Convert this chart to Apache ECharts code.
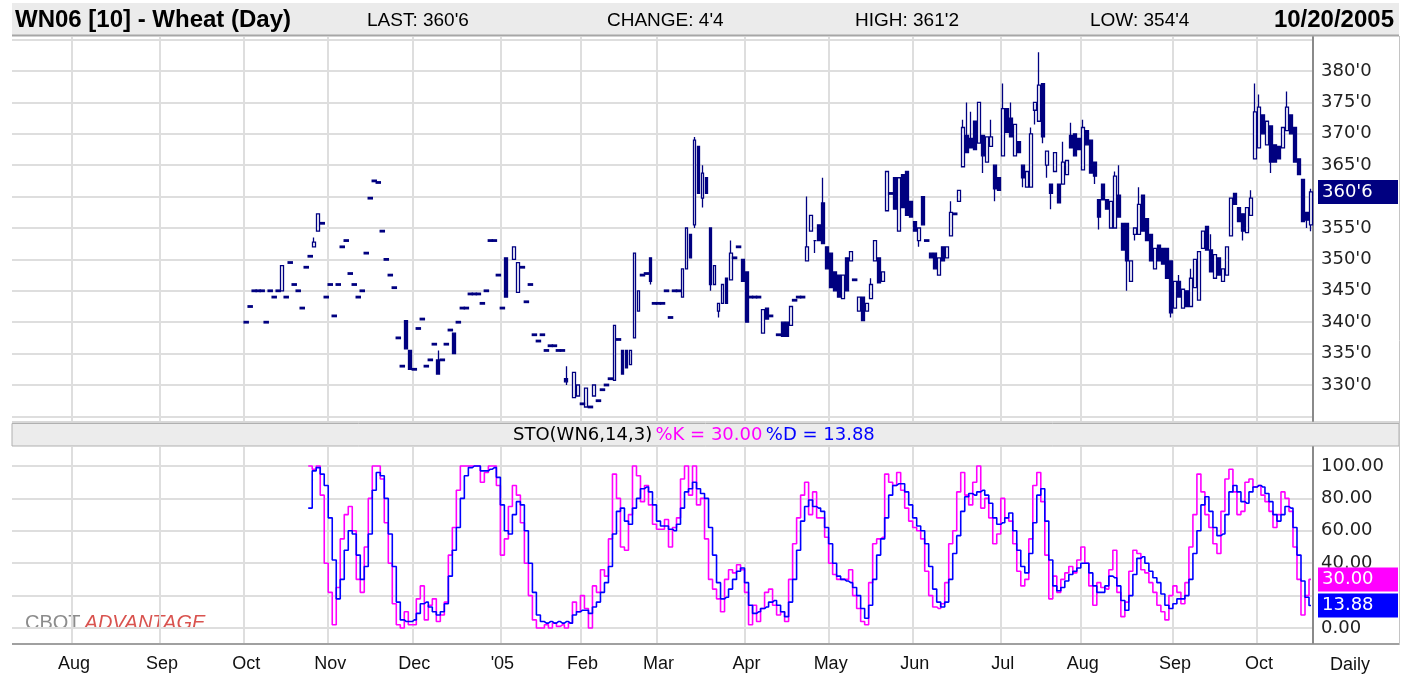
<!DOCTYPE html>
<html>
<head>
<meta charset="utf-8">
<script src="https://cdn.jsdelivr.net/npm/echarts@6/dist/echarts.min.js"></script>
<style>
html,body{margin:0;padding:0;background:#ffffff;}
#chart{width:1408px;height:676px;}
</style>
</head>
<body>
<div id="chart"></div>
<script>
// ---------------- data ----------------
const TITLE = "WN06 [10] - Wheat (Day)";
const REPORT_DATE = "10/20/2005";
const LAST = 360.75, CHANGE = 4.5, HIGH = 361.25, LOW = 354.5;
const K_LAST = 30.00, D_LAST = 13.88;
const STO_NAME = "STO(WN6,14,3)";
const AXIS_FIRST_DAY = "2004-07-12";
const AXIS_LAST_DAY = "2005-10-20";
const HOLIDAYS = ["2004-09-06","2004-11-25","2004-12-24","2005-01-17","2005-02-21","2005-03-25","2005-05-30","2005-07-04","2005-09-05"];
const MONTH_LABELS = ["'05","Feb","Mar","Apr","May","Jun","Jul","Aug","Sep","Oct","Nov","Dec"];
const PRICE_MIN = 325, PRICE_MAX = 385, PRICE_STEP = 5;
const STOCH_MIN = 0, STOCH_MAX = 100, STOCH_STEP = 20;

// daily bars from PRICE_START: number = single-price day, [open, close] or [open, close, high, low]
const PRICE_START = "2004-10-01";
const BARS = [
  // Oct 2004
  340, 342.5, 345, 345, 345, 340, 345, 344, 345, [345,349], 344, 349.5, 346, 345, 342.25, 348.75, 350.5, [352,352.75,353.5,352], [354.5,357.25], 355.75, 344,
  // Nov
  346, 341, 346, 352, 353, 347.75, 346, 344, 345, 351, 359.75, 362.5, 362.25, 354.5, 350, 347.5, 345.5, 337.5, 333, [340.25,335.75], [335.5,332.5],
  // Dec
  332.5, 339, 340.5, 333, 334, 336.5, [334,331.75,335.5,331.75], 334, 336.5, 338.75, [338.25,335], 340, 342.25, 342.25, 344.5, 344.5, 344.5, 343, 345, 353, 353, 347.5,
  // Jan 2005
  342.25, [350.25,344], null, [350,352], [344.75,349.5], 348.75, 343.25, 346, 338, 337, 338, 335.5, 336.25, 336.25, 335.5, 335.5, [331,330.5,333,330], null, [328,332], [328.25,330],
  // Feb
  327, [326.5,329.5], 326.5, [328.25,330], 327.5, 329.25, 330, 331, [330.75,339.5], 337.25, [335.5,331.75], [335.5,332.75], [333.25,335.5], [337.5,351], [341.75,345], 347.5, 347.75, [350.25,346.5,350.25,346], 343,
  // Mar
  343, 343, 345, 340.75, 345, 345, [344,348.5], [348.5,355], [354,350.25], [355.5,369,369.5,355], [368,360.5], [359.75,363.75,365,358.25], [363,360.5], [355,346,355,345], [346,349], [341.75,343,343,340.75], [343,346], [347,343], [346.75,351,353,346.75], 350.25, 352, [350,346.5],
  // Apr
  [348,340], 344, 344, 344, [338.25,342], [342.25,340.5], 341, null, 338, [340,337.75], [340,337.75], [339.5,342.5], 343.5, 344, 344, [349.75,352,360,349.75], [354.5,357], [353,353,353,351], [355.5,353], [359,352.5,363,352.5], [352,348.5],
  // May
  [351,345.5], [348,345], [347.5,344], [343.75,347.5], [350.25,345], [349.75,351.25], 346.75, [341.75,344], [344,340.25], [341.75,343], [343.75,346,347,343.75], [349.75,353], [350.25,346.25], [346.5,348], [357.75,364], 360.5, [363,358], [354.5,363], [363.5,358.25], [364,357], [359.25,356.75],
  // Jun
  [356,354.5], [353,355,355,352], [360,355.5], 353, [351,350.25], [351,348.5], [347.5,350.25], [352,349.75], [350.25,352], [353.75,357.5,359.25,353.75], 357.25, [359.25,361], [364.75,371,372.25,364.75], [369.75,367,375,367], [369.25,367.75,373.5,367.75], [372,367.5], [368.5,375], [369.75,366.5,369.75,363.75], [365.5,369.5], [368,369.5,372.25,368], [365,361.25,365,359.25], [363,361],
  // Jul
  [366.5,374,378,366.5], [374,370.25], [372.5,369.5,375,369.5], [366.5,371.5], [368.75,367], [365,363,365,361.5], [361.5,364], [361.5,370,371,361.5], [373.75,375,375,371.5], [372,377.75,383,372], [378,369.5,378,368.5], [365,367.25,367.25,363], [362,360.5,362,358], [364,367], [362,359], [362,365.5,368.75,362], [363.5,365.75], [369.75,367.75,371.75,367.75], [370,366.5], [369.25,367.5],
  // Aug
  [364.25,371,372.25,364.25], [370.5,368.25], [369,363.75], [365.5,363.25,365.5,362], [359.5,356.75,359.5,354.75], [362,359.5], [359.5,358], [355,359.25], [355,363.25,364,355], [360.25,356.75,365,356.75], [355.75,351.5], [355.75,349.75,355.75,345], [346.5,349.75], [354,355,355,353], [354,358.75,361.5,354], [360.25,354.5], [356.5,353], [354,349.75], [348.5,351.75], [352.25,349.75], [351.75,349.25], [351.75,347], [349.75,341.5,349.75,340.75],
  // Sep
  [342.25,346.5], [346.5,344,347.5,344], [342.25,345.25], [345,342.5], [342.5,347,348.5,342.5], [345.5,350], [343.5,351.25], [351.75,354.5], [355.25,351.5], [351.5,348,354,348], [347,350.75], [350.25,347.5], [346.5,348.5], [347.5,352], [353.75,359.75], [360.5,358.75], [358.25,356], [357.25,354.5,357.25,353], [354.25,358.25], [357,359.75,361,357], [366,373.5,378,366],
  // Oct
  [367.75,374.25,376.25,367.75], [373,370], [368.25,372], [371.25,365.5,371.25,363.75], [368.25,365.5], [368,366], [367.75,371], [370.5,374.25,376.75,370.5], [373,370], [371,365.5], [366,363.5], [362.75,356], [357.5,356.25,357.5,355], [355.5,360.75,361.25,354.5]
];

// stochastic (14,3) from STOCH_START
const STOCH_START = "2004-10-25";
const STOCH_K = [
  100, 98, 100, 82, 40, 22, 2, 25, 55, 70,
  75, 60, 30, 22, 50, 80, 100, 100, 92, 65,
  40, 15, 2, 0, 10, 2, 2, 18, 26, 5,
  14, 18, 4, 8, 16, 45, 62, 85, 100, 100,
  100, 100, 100, 90, 96, 100, 100, 88, 45, 55,
  75, 88, 82, 65, 40, 20, 5, 0, 0, 2,
  0, 3, 1, 2, 0, 3, 16, 10, 20, 12,
  0, 26, 22, 36, 32, 55, 95, 80, 50, 48,
  70, 100, 94, 78, 88, 76, 64, 61, 61, 67,
  50, 62, 68, 92, 100, 82, 100, 76, 80, 55,
  30, 24, 18, 10, 30, 36, 34, 39, 36, 22,
  2, 14, 4, 12, 22, 24, 14, 8, 10, 4,
  30, 52, 68, 82, 90, 70, 84, 68, 68, 56,
  40, 33, 30, 30, 30, 36, 20, 12, 4, 2,
  28, 52, 55, 56, 95, 90, 88, 96, 85, 74,
  66, 62, 60, 55, 35, 20, 13, 12, 15, 28,
  52, 60, 84, 96, 82, 76, 90, 100, 74, 80,
  68, 52, 58, 80, 68, 66, 52, 35, 26, 30,
  55, 88, 96, 78, 45, 18, 32, 22, 30, 34,
  38, 34, 42, 50, 40, 26, 14, 28, 25, 24,
  36, 48, 22, 7, 16, 35, 48, 46, 36, 34,
  28, 22, 14, 10, 5, 20, 26, 22, 15, 28,
  50, 70, 95, 84, 70, 62, 52, 46, 72, 92,
  98, 84, 70, 72, 90, 92, 87, 88, 82, 78,
  72, 62, 70, 84, 80, 72, 50, 30, 8, 20, 30
];
const STOCH_D = [
  74, 97, 99, 95, 88, 68, 42, 18, 30, 48,
  60, 58, 45, 30, 38, 58, 85, 96, 94, 80,
  58, 38, 16, 5, 4, 4, 5, 9, 15, 16,
  13, 10, 8, 10, 15, 32, 48, 62, 80, 94,
  99, 100, 100, 97, 97, 98, 99, 93, 76, 60,
  58, 70, 78, 76, 60, 40, 22, 8, 4, 3,
  4, 3, 4, 3, 4, 3, 8, 10, 11, 11,
  9, 13, 16, 22, 28, 38, 58, 72, 74, 66,
  64, 74, 80, 86, 87, 84, 76, 66, 63, 63,
  61, 60, 64, 74, 84, 86, 90, 86, 83, 80,
  62, 45, 28, 18, 19, 24, 30, 35, 37, 28,
  14, 9, 10, 12, 13, 16, 17, 14, 10, 7,
  16, 30, 48, 66, 75, 79, 75, 74, 72, 62,
  52, 40, 32, 30, 29, 28, 25, 20, 12, 6,
  14, 30, 45, 55, 68, 82, 88, 89, 89, 84,
  76, 68, 63, 60, 52, 38, 24, 16, 13, 16,
  30, 46, 57, 72, 81, 83, 82, 84, 85, 82,
  77, 68, 64, 65, 68, 71, 60, 48, 38, 34,
  46, 65, 82, 86, 66, 42, 26, 23, 25, 29,
  33, 35, 37, 40, 40, 34, 26, 22, 22, 26,
  32, 31, 26, 17, 11, 20, 33, 43, 44, 40,
  35, 31, 28, 21, 14, 12, 15, 18, 18, 20,
  30, 46, 60, 76, 81, 72, 62, 57, 58, 70,
  84, 88, 84, 78, 77, 84, 87, 88, 87, 83,
  78, 70, 66, 70, 75, 74, 62, 45, 29, 19, 13.88
];

// ---------------- build ----------------
const dates = [];
(function () {
  let t = Date.parse(AXIS_FIRST_DAY + "T00:00:00Z");
  const end = Date.parse(AXIS_LAST_DAY + "T00:00:00Z");
  while (t <= end) {
    const d = new Date(t);
    const wd = d.getUTCDay();
    const s = d.toISOString().slice(0, 10);
    if (wd > 0 && wd < 6 && HOLIDAYS.indexOf(s) < 0) dates.push(s);
    t += 86400000;
  }
})();
const monthStart = dates.map((d, i) => i > 0 && d.slice(0, 7) !== dates[i - 1].slice(0, 7));
function monthLabel(v) { return MONTH_LABELS[parseInt(v.slice(5, 7), 10) - 1]; }
function eighths(v) { const w = Math.floor(v + 1e-9); return w + "'" + Math.round((v - w) * 8); }

const p0 = dates.indexOf(PRICE_START);
const EMPTY = ['-', '-', '-', '-'];
const candleData = dates.map((d, i) => {
  const b = i >= p0 ? BARS[i - p0] : undefined;
  if (b === undefined || b === null || typeof b === 'number') return EMPTY;
  const o = b[0], c = b[1];
  const h = b.length > 2 ? b[2] : Math.max(o, c);
  const l = b.length > 3 ? b[3] : Math.min(o, c);
  return [o, c, l, h];
});
const tickData = dates.map((d, i) => {
  const b = i >= p0 ? BARS[i - p0] : undefined;
  return (typeof b === 'number') ? b : '-';
});
const s0 = dates.indexOf(STOCH_START);
const kData = dates.map((d, i) => (i >= s0 && STOCH_K[i - s0] !== undefined) ? STOCH_K[i - s0] : '-');
const dData = dates.map((d, i) => (i >= s0 && STOCH_D[i - s0] !== undefined) ? STOCH_D[i - s0] : '-');

// ---------------- style ----------------
const NAVY = '#000080', MAGENTA = '#ff00ff', BLUE = '#0000ff';
const GRID_C = '#dedede', FRAME_C = '#8a8a8a';
const AX_FONT = 'DejaVu Sans';
const HEAD_FONT = '"Liberation Sans", Arial, sans-serif';
const L = 12, R = 95;

function catAxis(gi, extra) {
  return Object.assign({
    type: 'category', gridIndex: gi, data: dates, boundaryGap: true,
    axisLine: { show: false }, axisTick: { show: false }, axisLabel: { show: false },
    splitLine: { show: false }
  }, extra || {});
}
const vSplit = { show: true, interval: (i) => monthStart[i], lineStyle: { color: GRID_C, width: 2 } };
function frameY(gi) {
  return { type: 'value', gridIndex: gi, position: 'right', min: 0, max: 1,
    axisLine: { show: true, lineStyle: { color: FRAME_C, width: 2 } },
    axisTick: { show: false }, axisLabel: { show: false }, splitLine: { show: false } };
}
function lastLabel(text, bg, value) {
  return {
    silent: true, animation: false, symbol: ['none', 'none'], precision: 2,
    lineStyle: { color: 'rgba(0,0,0,0)', width: 1, type: 'solid' },
    emphasis: { disabled: true },
    label: { show: true, position: 'end', distance: 5, formatter: text,
      color: '#ffffff', backgroundColor: bg, borderColor: 'rgba(255,255,255,0.35)', borderWidth: 1,
      width: 74, height: 20, lineHeight: 20, padding: [2, 2, 2, 4], align: 'left',
      fontFamily: AX_FONT, fontSize: 18 },
    data: [{ yAxis: value }]
  };
}

const chart = echarts.init(document.getElementById('chart'), null, { renderer: 'canvas' });
const option = {
  animation: false,
  backgroundColor: '#ffffff',
  textStyle: { fontFamily: AX_FONT },
  grid: [
    { left: L, right: R, top: 37, height: 384 },
    { left: L, right: R, top: 39.6, height: 376.8 },
    { left: L, right: R, top: 447, height: 196 },
    { left: L, right: R, top: 466, height: 162 }
  ],
  xAxis: [
    catAxis(0, { splitLine: vSplit }),
    catAxis(1),
    catAxis(2, { splitLine: vSplit,
      axisLabel: { show: true, interval: (i) => monthStart[i], formatter: (v) => monthLabel(v),
        margin: 12, fontFamily: HEAD_FONT, fontSize: 18, color: '#111' } }),
    catAxis(3)
  ],
  yAxis: [
    frameY(0),
    { type: 'value', gridIndex: 1, position: 'right', min: PRICE_MIN, max: PRICE_MAX, interval: PRICE_STEP,
      axisLine: { show: false }, axisTick: { show: false },
      splitLine: { show: true, lineStyle: { color: GRID_C, width: 2 } },
      axisLabel: { margin: 8, fontFamily: AX_FONT, fontSize: 18, color: '#222',
        showMinLabel: false, showMaxLabel: false,
        formatter: (v) => (Math.abs(v - Math.floor(LAST)) < 1e-6 ? '' : eighths(v)) } },
    frameY(2),
    { type: 'value', gridIndex: 3, position: 'right', min: STOCH_MIN, max: STOCH_MAX, interval: STOCH_STEP,
      axisLine: { show: false }, axisTick: { show: false },
      splitLine: { show: true, lineStyle: { color: GRID_C, width: 2 } },
      axisLabel: { margin: 8, fontFamily: AX_FONT, fontSize: 18, color: '#222',
        formatter: (v) => (v === 20 ? '' : v.toFixed(2)) } }
  ],
  series: [
    { type: 'candlestick', xAxisIndex: 1, yAxisIndex: 1, data: candleData, barWidth: 3.4, clip: false,
      itemStyle: { color: '#ffffff', color0: NAVY, borderColor: NAVY, borderColor0: NAVY,
        borderColorDoji: NAVY, borderWidth: 1.3 },
      markLine: lastLabel(eighths(LAST), NAVY, LAST) },
    { type: 'scatter', xAxisIndex: 1, yAxisIndex: 1, data: tickData, symbol: 'rect',
      symbolSize: [5.5, 2.8], itemStyle: { color: NAVY, opacity: 1 }, z: 3 },
    { type: 'line', name: '%K', xAxisIndex: 3, yAxisIndex: 3, data: kData, step: 'middle', clip: false,
      showSymbol: false, symbol: 'none', lineStyle: { color: MAGENTA, width: 1.6 }, itemStyle: { color: MAGENTA },
      z: 3, markLine: lastLabel(K_LAST.toFixed(2), MAGENTA, K_LAST) },
    { type: 'line', name: '%D', xAxisIndex: 3, yAxisIndex: 3, data: dData, step: 'middle', clip: false,
      showSymbol: false, symbol: 'none', lineStyle: { color: BLUE, width: 1.6 }, itemStyle: { color: BLUE },
      z: 4, markLine: lastLabel(D_LAST.toFixed(2), BLUE, D_LAST) }
  ],
  graphic: [
    // header bar
    { type: 'rect', z: -5, shape: { x: 12, y: 3, width: 1387, height: 32 }, style: { fill: '#ebebeb' } },
    { type: 'line', z: -4, shape: { x1: 12, y1: 35.5, x2: 1399, y2: 35.5 }, style: { stroke: '#a6a6a6', lineWidth: 2 } },
    { type: 'text', x: 15, y: 20, style: { text: TITLE, font: 'bold 24px ' + HEAD_FONT, fill: '#000', textAlign: 'left', textVerticalAlign: 'middle' } },
    { type: 'text', x: 367, y: 21, style: { text: 'LAST: ' + eighths(LAST), font: '19px ' + HEAD_FONT, fill: '#000', textAlign: 'left', textVerticalAlign: 'middle' } },
    { type: 'text', x: 607, y: 21, style: { text: 'CHANGE: ' + eighths(CHANGE), font: '19px ' + HEAD_FONT, fill: '#000', textAlign: 'left', textVerticalAlign: 'middle' } },
    { type: 'text', x: 855, y: 21, style: { text: 'HIGH: ' + eighths(HIGH), font: '19px ' + HEAD_FONT, fill: '#000', textAlign: 'left', textVerticalAlign: 'middle' } },
    { type: 'text', x: 1090, y: 21, style: { text: 'LOW: ' + eighths(LOW), font: '19px ' + HEAD_FONT, fill: '#000', textAlign: 'left', textVerticalAlign: 'middle' } },
    { type: 'text', x: 1394, y: 20, style: { text: REPORT_DATE, font: 'bold 24px ' + HEAD_FONT, fill: '#000', textAlign: 'right', textVerticalAlign: 'middle' } },
    // panel separators
    { type: 'line', z: -4, shape: { x1: 12, y1: 422, x2: 1399, y2: 422 }, style: { stroke: '#b0b0b0', lineWidth: 1 } },
    { type: 'rect', z: -5, shape: { x: 12, y: 423.5, width: 1387, height: 22.5 }, style: { fill: '#ececec', stroke: '#b0b0b0', lineWidth: 1 } },
    { type: 'text', x: 513, y: 435, style: {
        text: '{a|' + STO_NAME + '} {b|%K = ' + K_LAST.toFixed(2) + '} {c|%D = ' + D_LAST.toFixed(2) + '}',
        textVerticalAlign: 'middle', textAlign: 'left',
        rich: { a: { fill: '#000', fontSize: 18, fontFamily: AX_FONT },
                b: { fill: MAGENTA, fontSize: 18, fontFamily: AX_FONT },
                c: { fill: BLUE, fontSize: 18, fontFamily: AX_FONT } } } },
    { type: 'line', z: -4, shape: { x1: 12, y1: 644, x2: 1399, y2: 644 }, style: { stroke: '#a0a0a0', lineWidth: 2 } },
    { type: 'line', z: -4, shape: { x1: 1399.5, y1: 36, x2: 1399.5, y2: 645 }, style: { stroke: '#c4c4c4', lineWidth: 1 } },
    // watermark
    { type: 'text', x: 25, y: 623, style: {
        text: '{a|CBOT}{b|ADVANTAGE}', textVerticalAlign: 'middle', textAlign: 'left',
        rich: { a: { fill: '#8c8c8c', fontSize: 20, fontFamily: HEAD_FONT, textShadowColor: '#d0d0d0', textShadowOffsetX: 1, textShadowOffsetY: 1, padding: [0, 4, 0, 0] },
                b: { fill: '#d9534f', fontSize: 20, fontStyle: 'italic', fontFamily: HEAD_FONT, textShadowColor: '#f0c0c0', textShadowOffsetX: 1, textShadowOffsetY: 1 } } } },
    { type: 'text', x: 1350, y: 665, style: { text: 'Daily', font: '18px ' + HEAD_FONT, fill: '#111', textAlign: 'center', textVerticalAlign: 'middle' } }
  ]
};
chart.setOption(option);
</script>
</body>
</html>
